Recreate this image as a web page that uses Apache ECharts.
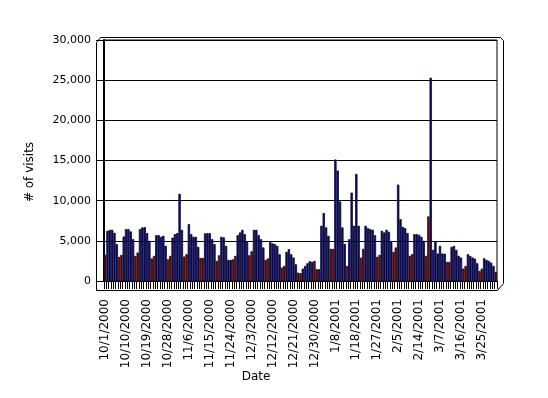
<!DOCTYPE html>
<html>
<head>
<meta charset="utf-8">
<script src="https://cdn.jsdelivr.net/npm/echarts@6/dist/echarts.min.js"></script>
<style>
  html, body { margin: 0; padding: 0; background: #fff; }
  #chart { width: 548px; height: 398px; }
</style>
</head>
<body>
<div id="chart"></div>
<script>
// ---- data ----
const firstDate = '10/1/2000';
const lastDate = '3/31/2001';
const missingDates = ['1/14/2001',
  '2/23/2001', '2/24/2001', '2/25/2001', '2/26/2001', '2/27/2001', '2/28/2001',
  '3/1/2001', '3/2/2001', '3/3/2001', '3/4/2001', '3/5/2001', '3/6/2001'];

const visitsOct = [3250, 6250, 6375, 6375, 6000, 4580, 3000, 3250, 5540, 6460, 6460, 6170, 5200, 3125,
  3540, 6460, 6670, 6700, 5960, 5000, 2800, 3125, 5700, 5700, 5500, 5625, 4375, 2700, 3125, 5400, 5830];
const visitsNov = [5960, 10850, 6375, 3040, 3330, 7080, 5830, 5500, 5500, 4250, 2875, 2875, 5920, 5960,
  5960, 5200, 4580, 2500, 3200, 5500, 5420, 4375, 2625, 2625, 2700, 3125, 5700, 6040, 6375, 5830];
const visitsDec = [4875, 3200, 3700, 6375, 6375, 5700, 5200, 4170, 2625, 2800, 4875, 4670, 4580, 4375,
  3330, 1670, 1875, 3625, 3960, 3330, 2920, 2080, 1040, 960, 1540, 1875, 2210, 2460, 2375, 2500, 1460];
const visitsJan = [1460, 6875, 8460, 6670, 5625, 4000, 4000, 15125, 13750, 9900, 6670, 4620, 1875, 5200,
  11000, 6875, 13330, 6875, 2900, 4000, 6875, 6580, 6460, 6375, 5700, 3000, 3250, 6250, 6040, 6375];
const visitsFeb = [6125, 4875, 3625, 4170, 12000, 7700, 6750, 6580, 5960, 3125, 3330, 5830, 5830, 5750,
  5500, 5000, 3125, 8040, 25300, 3875, 4920, 3420];
const visitsMar = [4375, 3420, 3400, 2375, 2375, 4250, 4375, 3875, 3125, 2920, 1540, 1875, 3330, 3125,
  2920, 2790, 2210, 1250, 1540, 2830, 2625, 2500, 2290, 1875, 1125];

const yTicks = [0, 5000, 10000, 15000, 20000, 25000, 30000];

// ---- build categories ----
function parseDate(s) { const p = s.split('/').map(Number); return new Date(p[2], p[0] - 1, p[1]); }
function fmt(d) { return (d.getMonth() + 1) + '/' + d.getDate() + '/' + d.getFullYear(); }
const dates = [];
for (let d = parseDate(firstDate); d <= parseDate(lastDate); d = new Date(d.getFullYear(), d.getMonth(), d.getDate() + 1)) {
  const s = fmt(d);
  if (missingDates.indexOf(s) === -1) dates.push(s);
}
const visits = [].concat(visitsOct, visitsNov, visitsDec, visitsJan, visitsFeb, visitsMar);

const BLUE = '#0808a8', RED = '#a00000';
const barData = visits.map((v, i) => {
  const wd = parseDate(dates[i]).getDay();
  return { value: v, itemStyle: { color: (wd === 0 || wd === 6) ? RED : BLUE } };
});

const FONT = 'DejaVu Sans';
const chart = echarts.init(document.getElementById('chart'), null, { renderer: 'canvas' });
chart.setOption({
  animation: false,
  backgroundColor: '#fff',
  grid: { left: 104, right: 51, top: 40, bottom: 117, show: true, borderColor: '#000', borderWidth: 1 },
  xAxis: {
    type: 'category',
    data: dates,
    boundaryGap: true,
    axisLine: { show: true, lineStyle: { color: '#000', width: 1 } },
    axisTick: { show: true, interval: 0, length: 8, lineStyle: { color: '#000', width: 1 } },
    axisLabel: { interval: 8, rotate: 90, margin: 18, color: '#000', fontSize: 12, fontFamily: FONT },
    splitLine: { show: false }
  },
  yAxis: {
    type: 'value',
    min: yTicks[0], max: yTicks[yTicks.length - 1], interval: yTicks[1] - yTicks[0],
    axisLine: { show: true, lineStyle: { color: '#000', width: 2 } },
    axisTick: { show: true, length: 8, lineStyle: { color: '#000', width: 1 } },
    axisLabel: { margin: 13, color: '#000', fontSize: 11, fontFamily: FONT,
      formatter: v => v.toLocaleString('en-US') },
    splitLine: { show: true, lineStyle: { color: '#000', width: 1 } }
  },
  series: [{
    type: 'bar',
    data: barData,
    barCategoryGap: '0%',
    itemStyle: { borderColor: '#000', borderWidth: 0.7 },
    silent: true
  }],
  graphic: [
    { type: 'polyline', silent: true,
      shape: { points: [[96.5, 290.5], [96.5, 42.5], [100.5, 37.5], [500.5, 37.5], [503.5, 40.5], [503.5, 283.5], [497.5, 290.5], [96.5, 290.5]] },
      style: { stroke: '#000', fill: null, lineWidth: 1 } },
    { type: 'text', silent: true, x: 30, y: 172, rotation: Math.PI / 2,
      style: { text: '# of visits', fill: '#000', font: '12px "DejaVu Sans"', align: 'center', verticalAlign: 'middle' } },
    { type: 'text', silent: true, x: 256, y: 377,
      style: { text: 'Date', fill: '#000', font: '12px "DejaVu Sans"', align: 'center', verticalAlign: 'middle' } }
  ]
});
</script>
</body>
</html>
